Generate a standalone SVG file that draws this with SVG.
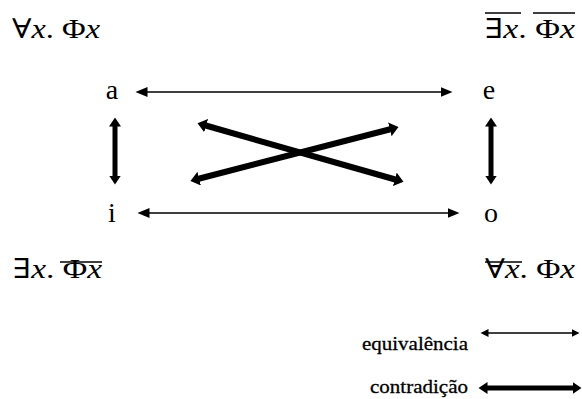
<svg xmlns="http://www.w3.org/2000/svg" width="582" height="399" viewBox="0 0 582 399">
<style>
.math{font-family:"Liberation Serif","DejaVu Serif",serif;font-size:27px;fill:#000}
.it{font-style:italic}
.node{font-family:"Liberation Serif","DejaVu Serif",serif;font-size:28px;fill:#000;text-anchor:middle}
.leg{font-family:"Liberation Serif","DejaVu Serif",serif;font-size:19px;fill:#000;stroke:#000;stroke-width:0.3}
.ov{stroke:#000;stroke-width:1.6}
.thin{stroke:#000;stroke-width:1.6;fill:none;marker-start:url(#hThin);marker-end:url(#hThin)}
.thinS{stroke:#000;stroke-width:1.4;fill:none;marker-start:url(#hThinS);marker-end:url(#hThinS)}
.thick{stroke:#000;stroke-width:5;fill:none;marker-start:url(#hThick);marker-end:url(#hThick)}
.thickD{stroke:#000;stroke-width:6;fill:none;marker-start:url(#hThickD);marker-end:url(#hThickD)}
</style>
<defs>
<marker id="hThin" markerUnits="userSpaceOnUse" markerWidth="13" markerHeight="11" refX="0.5" refY="5" orient="auto-start-reverse"><path d="M0,0 L12,5 L0,10 z" fill="#000"/></marker>
<marker id="hThinS" markerUnits="userSpaceOnUse" markerWidth="9" markerHeight="9" refX="0.5" refY="4" orient="auto-start-reverse"><path d="M0,0 L8,4 L0,8 z" fill="#000"/></marker>
<marker id="hThick" markerUnits="userSpaceOnUse" markerWidth="10" markerHeight="13" refX="0.5" refY="6" orient="auto-start-reverse"><path d="M0,0 L9,6 L0,12 z" fill="#000"/></marker>
<marker id="hThickD" markerUnits="userSpaceOnUse" markerWidth="10" markerHeight="15" refX="0.5" refY="7" orient="auto-start-reverse"><path d="M0,0 L9,7 L0,14 z" fill="#000"/></marker>
</defs>

<g id="formula-a">
<text class="math" x="12" y="38" textLength="88" lengthAdjust="spacingAndGlyphs">∀<tspan class="it">x</tspan>. Φ<tspan class="it">x</tspan></text>
</g>
<g id="formula-e">
<text class="math" x="485" y="38" textLength="90" lengthAdjust="spacingAndGlyphs">∃<tspan class="it">x</tspan>. Φ<tspan class="it">x</tspan></text>
<line class="ov" x1="485" y1="13" x2="521" y2="13"/>
<line class="ov" x1="533" y1="13" x2="575" y2="13"/>
</g>
<g id="formula-i">
<text class="math" x="13" y="278" textLength="89" lengthAdjust="spacingAndGlyphs">∃<tspan class="it">x</tspan>. Φ<tspan class="it">x</tspan></text>
<line class="ov" x1="60" y1="262" x2="102" y2="262"/>
</g>
<g id="formula-o">
<text class="math" x="485" y="278" textLength="90" lengthAdjust="spacingAndGlyphs">∀<tspan class="it">x</tspan>. Φ<tspan class="it">x</tspan></text>
<line class="ov" x1="485" y1="262" x2="522" y2="262"/>
</g>

<g id="node-a"><text class="node" x="112" y="99">a</text></g>
<g id="node-e"><text class="node" x="489" y="99">e</text></g>
<g id="node-i"><text class="node" x="112" y="222">i</text></g>
<g id="node-o"><text class="node" x="491" y="222">o</text></g>

<g id="connectors">
<line class="thin" x1="147" y1="92" x2="441" y2="92"/>
<line class="thin" x1="149" y1="213" x2="448" y2="213"/>
<line class="thick" x1="115" y1="126" x2="115" y2="176"/>
<line class="thick" x1="491" y1="126" x2="491" y2="176"/>
<line class="thickD" x1="205.7" y1="125.5" x2="395.3" y2="179.5"/>
<line class="thickD" x1="198.7" y1="178.75" x2="390.3" y2="129.25"/>
</g>

<g id="legend">
<text class="leg" x="362" y="350" textLength="106" lengthAdjust="spacingAndGlyphs">equivalência</text>
<line class="thinS" x1="488" y1="333" x2="572" y2="333"/>
<text class="leg" x="370" y="393" textLength="98" lengthAdjust="spacingAndGlyphs">contradição</text>
<line class="thick" x1="487" y1="388" x2="573" y2="388"/>
</g>
</svg>
